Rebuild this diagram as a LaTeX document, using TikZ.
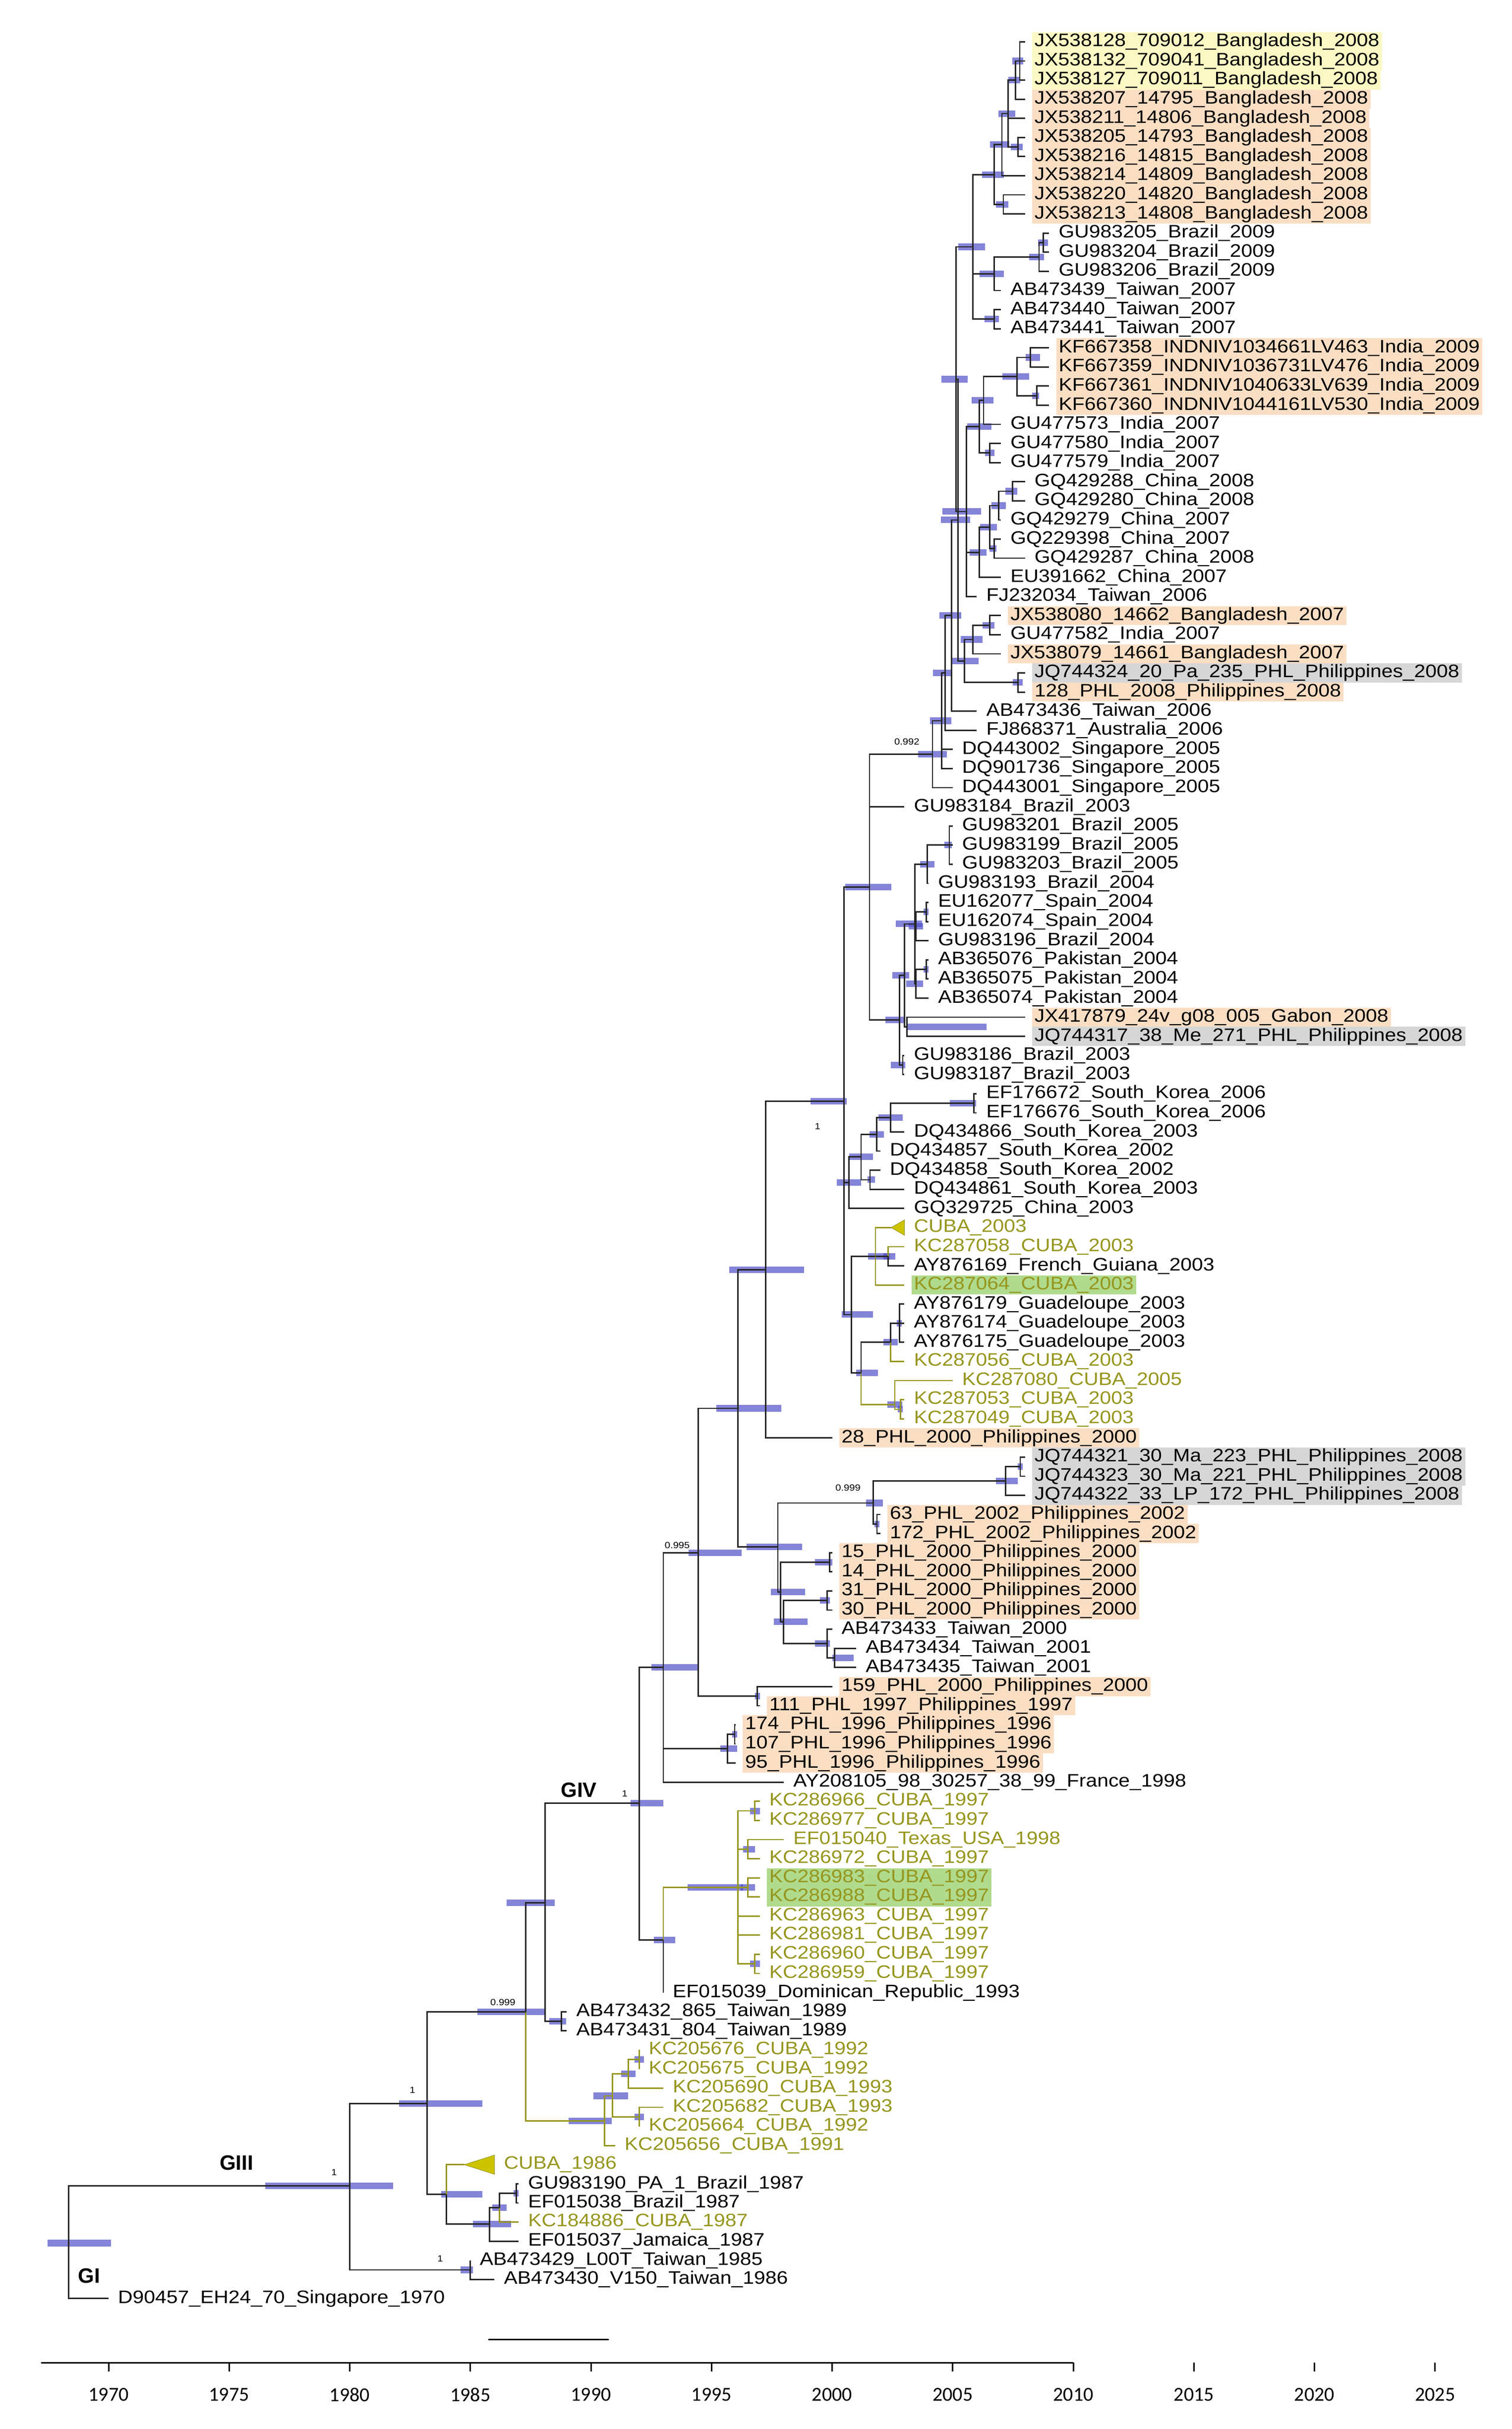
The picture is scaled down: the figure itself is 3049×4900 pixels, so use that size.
\documentclass[tikz,border=0pt]{standalone}
\usepackage{fontspec}
\setmainfont{Liberation Sans}[FakeStretch=1.12]
\newfontfamily\axf{Carlito}
\newfontfamily\grpf{Liberation Sans}
\definecolor{olv}{RGB}{150,150,30}
\definecolor{hor}{RGB}{250,222,196}
\definecolor{hye}{RGB}{252,248,196}
\definecolor{hgy}{RGB}{214,214,214}
\definecolor{hgn}{RGB}{176,218,140}
\definecolor{hpdc}{RGB}{80,80,200}
\definecolor{tric}{RGB}{205,195,0}
\tikzset{
  br/.style={draw=black!85,line width=2.8pt},
  ob/.style={draw=olv,line width=2.8pt},
  hpd/.style={fill=hpdc,fill opacity=0.7},
  lab/.style={anchor=west,xshift=14pt,inner xsep=5pt,inner ysep=0pt,minimum height=38.6pt,font=\fontsize{36.5}{38}\selectfont},
  ol/.style={text=olv}, ho/.style={fill=hor}, hy/.style={fill=hye}, hg/.style={fill=hgy}, hn/.style={fill=hgn},
  sup/.style={font=\fontsize{18}{20}\selectfont,inner sep=0pt},
  grp/.style={font=\grpf\bfseries\fontsize{42}{44}\selectfont,inner sep=0pt},
  tri/.style={fill=tric,draw=olv,line width=1pt}
}
\newcommand\tnode[5]{\coordinate (#1) at (#2,#3);\fill[hpd] (#2-#4,#3-0.17) rectangle (#2+#5,#3+0.17);}
\newcommand\tleaf[5]{\coordinate (#1) at (#2,#3);\node[lab,#4] (#1t) at (#1) {#5};}
\newcommand\tedge[3][br]{\draw[#1] (#2) |- (#3);}
\begin{document}
\begin{tikzpicture}[x=1pt,y=1pt]
\useasboundingbox (0,0) rectangle (3049,-4900);
\fill[white] (0,0) rectangle (3049,-4900);
\begin{scope}[shift={(219pt,-84.4pt)},x=48.65pt,y=-38.58pt]
% leaves
\tleaf{L1}{38}{0}{hy}{JX538128\_709012\_Bangladesh\_2008}
\tleaf{L2}{38}{1}{hy}{JX538132\_709041\_Bangladesh\_2008}
\tleaf{L3}{38}{2}{hy}{JX538127\_709011\_Bangladesh\_2008}
\tleaf{L4}{38}{3}{ho}{JX538207\_14795\_Bangladesh\_2008}
\tleaf{L5}{38}{4}{ho}{JX538211\_14806\_Bangladesh\_2008}
\tleaf{L6}{38}{5}{ho}{JX538205\_14793\_Bangladesh\_2008}
\tleaf{L7}{38}{6}{ho}{JX538216\_14815\_Bangladesh\_2008}
\tleaf{L8}{38}{7}{ho}{JX538214\_14809\_Bangladesh\_2008}
\tleaf{L9}{38}{8}{ho}{JX538220\_14820\_Bangladesh\_2008}
\tleaf{L10}{38}{9}{ho}{JX538213\_14808\_Bangladesh\_2008}
\tleaf{L11}{39}{10}{}{GU983205\_Brazil\_2009}
\tleaf{L12}{39}{11}{}{GU983204\_Brazil\_2009}
\tleaf{L13}{39}{12}{}{GU983206\_Brazil\_2009}
\tleaf{L14}{37}{13}{}{AB473439\_Taiwan\_2007}
\tleaf{L15}{37}{14}{}{AB473440\_Taiwan\_2007}
\tleaf{L16}{37}{15}{}{AB473441\_Taiwan\_2007}
\tleaf{L17}{39}{16}{ho}{KF667358\_INDNIV1034661LV463\_India\_2009}
\tleaf{L18}{39}{17}{ho}{KF667359\_INDNIV1036731LV476\_India\_2009}
\tleaf{L19}{39}{18}{ho}{KF667361\_INDNIV1040633LV639\_India\_2009}
\tleaf{L20}{39}{19}{ho}{KF667360\_INDNIV1044161LV530\_India\_2009}
\tleaf{L21}{37}{20}{}{GU477573\_India\_2007}
\tleaf{L22}{37}{21}{}{GU477580\_India\_2007}
\tleaf{L23}{37}{22}{}{GU477579\_India\_2007}
\tleaf{L24}{38}{23}{}{GQ429288\_China\_2008}
\tleaf{L25}{38}{24}{}{GQ429280\_China\_2008}
\tleaf{L26}{37}{25}{}{GQ429279\_China\_2007}
\tleaf{L27}{37}{26}{}{GQ229398\_China\_2007}
\tleaf{L28}{38}{27}{}{GQ429287\_China\_2008}
\tleaf{L29}{37}{28}{}{EU391662\_China\_2007}
\tleaf{L30}{36}{29}{}{FJ232034\_Taiwan\_2006}
\tleaf{L31}{37}{30}{ho}{JX538080\_14662\_Bangladesh\_2007}
\tleaf{L32}{37}{31}{}{GU477582\_India\_2007}
\tleaf{L33}{37}{32}{ho}{JX538079\_14661\_Bangladesh\_2007}
\tleaf{L34}{38}{33}{hg}{JQ744324\_20\_Pa\_235\_PHL\_Philippines\_2008}
\tleaf{L35}{38}{34}{ho}{128\_PHL\_2008\_Philippines\_2008}
\tleaf{L36}{36}{35}{}{AB473436\_Taiwan\_2006}
\tleaf{L37}{36}{36}{}{FJ868371\_Australia\_2006}
\tleaf{L38}{35}{37}{}{DQ443002\_Singapore\_2005}
\tleaf{L39}{35}{38}{}{DQ901736\_Singapore\_2005}
\tleaf{L40}{35}{39}{}{DQ443001\_Singapore\_2005}
\tleaf{L41}{33}{40}{}{GU983184\_Brazil\_2003}
\tleaf{L42}{35}{41}{}{GU983201\_Brazil\_2005}
\tleaf{L43}{35}{42}{}{GU983199\_Brazil\_2005}
\tleaf{L44}{35}{43}{}{GU983203\_Brazil\_2005}
\tleaf{L45}{34}{44}{}{GU983193\_Brazil\_2004}
\tleaf{L46}{34}{45}{}{EU162077\_Spain\_2004}
\tleaf{L47}{34}{46}{}{EU162074\_Spain\_2004}
\tleaf{L48}{34}{47}{}{GU983196\_Brazil\_2004}
\tleaf{L49}{34}{48}{}{AB365076\_Pakistan\_2004}
\tleaf{L50}{34}{49}{}{AB365075\_Pakistan\_2004}
\tleaf{L51}{34}{50}{}{AB365074\_Pakistan\_2004}
\tleaf{L52}{38}{51}{ho}{JX417879\_24v\_g08\_005\_Gabon\_2008}
\tleaf{L53}{38}{52}{hg}{JQ744317\_38\_Me\_271\_PHL\_Philippines\_2008}
\tleaf{L54}{33}{53}{}{GU983186\_Brazil\_2003}
\tleaf{L55}{33}{54}{}{GU983187\_Brazil\_2003}
\tleaf{L56}{36}{55}{}{EF176672\_South\_Korea\_2006}
\tleaf{L57}{36}{56}{}{EF176676\_South\_Korea\_2006}
\tleaf{L58}{33}{57}{}{DQ434866\_South\_Korea\_2003}
\tleaf{L59}{32}{58}{}{DQ434857\_South\_Korea\_2002}
\tleaf{L60}{32}{59}{}{DQ434858\_South\_Korea\_2002}
\tleaf{L61}{33}{60}{}{DQ434861\_South\_Korea\_2003}
\tleaf{L62}{33}{61}{}{GQ329725\_China\_2003}
\tleaf{L63}{33}{62}{ol}{CUBA\_2003}
\tleaf{L64}{33}{63}{ol}{KC287058\_CUBA\_2003}
\tleaf{L65}{33}{64}{}{AY876169\_French\_Guiana\_2003}
\tleaf{L66}{33}{65}{ol,hn}{KC287064\_CUBA\_2003}
\tleaf{L67}{33}{66}{}{AY876179\_Guadeloupe\_2003}
\tleaf{L68}{33}{67}{}{AY876174\_Guadeloupe\_2003}
\tleaf{L69}{33}{68}{}{AY876175\_Guadeloupe\_2003}
\tleaf{L70}{33}{69}{ol}{KC287056\_CUBA\_2003}
\tleaf{L71}{35}{70}{ol}{KC287080\_CUBA\_2005}
\tleaf{L72}{33}{71}{ol}{KC287053\_CUBA\_2003}
\tleaf{L73}{33}{72}{ol}{KC287049\_CUBA\_2003}
\tleaf{L74}{30}{73}{ho}{28\_PHL\_2000\_Philippines\_2000}
\tleaf{L75}{38}{74}{hg}{JQ744321\_30\_Ma\_223\_PHL\_Philippines\_2008}
\tleaf{L76}{38}{75}{hg}{JQ744323\_30\_Ma\_221\_PHL\_Philippines\_2008}
\tleaf{L77}{38}{76}{hg}{JQ744322\_33\_LP\_172\_PHL\_Philippines\_2008}
\tleaf{L78}{32}{77}{ho}{63\_PHL\_2002\_Philippines\_2002}
\tleaf{L79}{32}{78}{ho}{172\_PHL\_2002\_Philippines\_2002}
\tleaf{L80}{30}{79}{ho}{15\_PHL\_2000\_Philippines\_2000}
\tleaf{L81}{30}{80}{ho}{14\_PHL\_2000\_Philippines\_2000}
\tleaf{L82}{30}{81}{ho}{31\_PHL\_2000\_Philippines\_2000}
\tleaf{L83}{30}{82}{ho}{30\_PHL\_2000\_Philippines\_2000}
\tleaf{L84}{30}{83}{}{AB473433\_Taiwan\_2000}
\tleaf{L85}{31}{84}{}{AB473434\_Taiwan\_2001}
\tleaf{L86}{31}{85}{}{AB473435\_Taiwan\_2001}
\tleaf{L87}{30}{86}{ho}{159\_PHL\_2000\_Philippines\_2000}
\tleaf{L88}{27}{87}{ho}{111\_PHL\_1997\_Philippines\_1997}
\tleaf{L89}{26}{88}{ho}{174\_PHL\_1996\_Philippines\_1996}
\tleaf{L90}{26}{89}{ho}{107\_PHL\_1996\_Philippines\_1996}
\tleaf{L91}{26}{90}{ho}{95\_PHL\_1996\_Philippines\_1996}
\tleaf{L92}{28}{91}{}{AY208105\_98\_30257\_38\_99\_France\_1998}
\tleaf{L93}{27}{92}{ol}{KC286966\_CUBA\_1997}
\tleaf{L94}{27}{93}{ol}{KC286977\_CUBA\_1997}
\tleaf{L95}{28}{94}{ol}{EF015040\_Texas\_USA\_1998}
\tleaf{L96}{27}{95}{ol}{KC286972\_CUBA\_1997}
\tleaf{L97}{27}{96}{ol,hn}{KC286983\_CUBA\_1997}
\tleaf{L98}{27}{97}{ol,hn}{KC286988\_CUBA\_1997}
\tleaf{L99}{27}{98}{ol}{KC286963\_CUBA\_1997}
\tleaf{L100}{27}{99}{ol}{KC286981\_CUBA\_1997}
\tleaf{L101}{27}{100}{ol}{KC286960\_CUBA\_1997}
\tleaf{L102}{27}{101}{ol}{KC286959\_CUBA\_1997}
\tleaf{L103}{23}{102}{}{EF015039\_Dominican\_Republic\_1993}
\tleaf{L104}{19}{103}{}{AB473432\_865\_Taiwan\_1989}
\tleaf{L105}{19}{104}{}{AB473431\_804\_Taiwan\_1989}
\tleaf{L106}{22}{105}{ol}{KC205676\_CUBA\_1992}
\tleaf{L107}{22}{106}{ol}{KC205675\_CUBA\_1992}
\tleaf{L108}{23}{107}{ol}{KC205690\_CUBA\_1993}
\tleaf{L109}{23}{108}{ol}{KC205682\_CUBA\_1993}
\tleaf{L110}{22}{109}{ol}{KC205664\_CUBA\_1992}
\tleaf{L111}{21}{110}{ol}{KC205656\_CUBA\_1991}
\tleaf{L112}{16}{111}{ol}{CUBA\_1986}
\tleaf{L113}{17}{112}{}{GU983190\_PA\_1\_Brazil\_1987}
\tleaf{L114}{17}{113}{}{EF015038\_Brazil\_1987}
\tleaf{L115}{17}{114}{ol}{KC184886\_CUBA\_1987}
\tleaf{L116}{17}{115}{}{EF015037\_Jamaica\_1987}
\tleaf{L117}{15}{116}{}{AB473429\_L00T\_Taiwan\_1985}
\tleaf{L118}{16}{117}{}{AB473430\_V150\_Taiwan\_1986}
\tleaf{L119}{0}{118}{}{D90457\_EH24\_70\_Singapore\_1970}
% collapsed clades
\coordinate (T63) at (32.45,62);
\coordinate (T112) at (14.75,111);
\filldraw[tri] (T63) -- (33,61.6) -- (33,62.4) -- cycle;
\filldraw[tri] (T112) -- (16,110.5) -- (16,111.5) -- cycle;
% internal nodes
\tnode{a}{37.78}{1}{.3}{.15}
\tnode{b}{37.6}{2}{.3}{.2}
\tnode{d}{37.7}{5.5}{.3}{.2}
\tnode{c}{37.3}{3.75}{.4}{.3}
\tnode{e}{37.04}{5.375}{.5}{.3}
\tnode{f}{37.1}{8.5}{.3}{.2}
\tnode{g}{36.72}{6.94}{.5}{.4}
\tnode{br1}{38.75}{10.5}{.2}{.2}
\tnode{br2}{38.58}{11.25}{.4}{.2}
\tnode{h}{36.72}{12.125}{.6}{.4}
\tnode{t}{36.72}{14.5}{.4}{.2}
\tnode{i}{35.84}{10.72}{.6}{.5}
\tnode{in1}{38.22}{16.5}{.2}{.4}
\tnode{in2}{38.49}{18.5}{.2}{.1}
\tnode{in3}{37.66}{17.5}{.6}{.5}
\tnode{in4}{36.28}{18.75}{.5}{.4}
\tnode{in5}{36.54}{21.5}{.2}{.2}
\tnode{ind}{36.1}{20.125}{.5}{.5}
\tnode{ch1}{37.48}{23.5}{.3}{.2}
\tnode{ch2}{36.9}{24.25}{.3}{.3}
\tnode{ch3}{36.72}{26.5}{.2}{.1}
\tnode{ch4}{36.54}{25.375}{.4}{.3}
\tnode{chi}{36.1}{26.69}{.4}{.3}
\tnode{ic}{35.57}{24.56}{1.0}{.6}
\tnode{top}{35.13}{17.64}{.6}{.5}
\tnode{bd1}{36.54}{30.5}{.3}{.2}
\tnode{bd2}{35.84}{31.25}{.5}{.4}
\tnode{ph1}{37.7}{33.5}{.2}{.2}
\tnode{bp}{35.48}{32.375}{.5}{.6}
\tnode{y1}{35.22}{25.0}{.7}{.5}
\tnode{y2}{34.95}{30.0}{.5}{.4}
\tnode{y3}{34.69}{33.0}{.5}{.3}
\tnode{y4}{34.55}{35.5}{.5}{.4}
\tnode{y5}{34.16}{37.25}{.6}{.6}
\tnode{b1}{34.86}{42}{.2}{.1}
\tnode{b2}{33.95}{43}{.3}{.3}
\tnode{s1}{33.9}{45.5}{.1}{.1}
\tnode{s2}{33.48}{46.25}{.3}{.3}
\tnode{p1}{33.9}{48.5}{.1}{.1}
\tnode{p2}{33.48}{49.25}{.4}{.3}
\tnode{bsp}{33.44}{46.125}{.8}{.3}
\tnode{gp}{33.1}{51.5}{0}{3.3}
\tnode{w}{33.0}{48.8}{.5}{.2}
\tnode{bb}{32.93}{53.5}{.5}{.1}
\tnode{w2}{32.8}{51.15}{.6}{.2}
\tnode{z}{31.55}{44.2}{1.0}{.9}
\tnode{k1}{35.88}{55.5}{1.0}{.1}
\tnode{k2}{32.42}{56.25}{.5}{.5}
\tnode{k3}{31.85}{57.125}{.3}{.3}
\tnode{k4}{31.57}{59.5}{.1}{.2}
\tnode{k5}{31.2}{58.3}{.5}{.5}
\tnode{kor}{30.7}{59.65}{.5}{.5}
\tnode{c2}{32.32}{63.5}{.2}{.3}
\tnode{c1}{31.8}{63.5}{.3}{.6}
\tnode{g1}{32.79}{67}{.1}{.1}
\tnode{g2}{32.42}{68}{.3}{.3}
\tnode{c4a}{32.83}{71.5}{.1}{.1}
\tnode{c4}{32.6}{71.25}{.3}{.3}
\tnode{c5}{31.2}{69.6}{.2}{.7}
\tnode{c6}{30.8}{66.55}{.4}{.9}
\tnode{big}{30.5}{55.4}{1.4}{.1}
\tnode{G}{27.24}{64.2}{1.5}{1.6}
\tnode{p75}{37.8}{74.5}{.1}{.1}
\tnode{p77}{37.2}{75.25}{.4}{.5}
\tnode{p78}{31.86}{77.5}{.1}{.1}
\tnode{p2n}{31.7}{76.4}{.3}{.4}
\tnode{q1}{29.9}{79.5}{.6}{.1}
\tnode{q2}{29.8}{81.5}{.3}{.1}
\tnode{tw1}{30.1}{84.5}{.1}{.8}
\tnode{tw2}{29.8}{83.75}{.5}{.1}
\tnode{q5}{27.99}{82.6}{.4}{1.0}
\tnode{q4}{27.87}{81.05}{.4}{1.0}
\tnode{p3}{27.75}{78.7}{1.3}{1.0}
\tnode{N3}{26.1}{71.45}{.9}{1.8}
\tnode{pp}{26.9}{86.5}{.1}{.1}
\tnode{N2}{24.45}{79.0}{.4}{1.8}
\tnode{phl96a}{25.96}{88.5}{.1}{.1}
\tnode{phl96}{25.66}{89.25}{.3}{.4}
\tnode{N1}{23.0}{85.0}{.5}{1.45}
\tnode{c9394}{26.8}{92.5}{.2}{.2}
\tnode{c9596}{26.5}{94.5}{.2}{.3}
\tnode{c9798}{26.5}{96.5}{.3}{.3}
\tnode{c101}{26.8}{100.5}{.2}{.2}
\tnode{c97}{26.1}{96.5}{2.1}{.2}
\tnode{n838}{23.0}{99.25}{.4}{.5}
\tnode{GIV}{22.0}{92.1}{.35}{1.0}
\tnode{tw89}{18.77}{103.5}{.5}{.2}
\tnode{A}{18.1}{97.3}{1.6}{.4}
\tnode{o3a}{22.0}{105.5}{.2}{.2}
\tnode{o3}{21.55}{106.25}{.3}{.3}
\tnode{o4}{22.0}{108.5}{.2}{.2}
\tnode{o2}{20.9}{107.4}{.8}{.65}
\tnode{o1}{20.57}{108.7}{1.5}{.3}
\tnode{B}{17.3}{103.0}{2.0}{.8}
\tnode{G2}{16.9}{112.5}{.1}{.1}
\tnode{F}{16.2}{113.25}{.3}{.3}
\tnode{E}{15.8}{114.1}{.7}{.9}
\tnode{D}{14.0}{112.55}{.2}{1.5}
\tnode{C}{13.2}{107.8}{1.15}{2.3}
\tnode{tw85}{15.0}{116.5}{.4}{.1}
\tnode{H}{10.0}{112.1}{3.5}{1.8}
\tnode{R}{-1.65}{115.1}{.88}{1.75}
% edges
\tedge{a}{L1}\tedge{a}{L2}\tedge{a}{L3}
\tedge{b}{a}\tedge{b}{L4}
\tedge{d}{L6}\tedge{d}{L7}
\tedge{c}{b}\tedge{c}{L5}\tedge{c}{d}
\tedge{e}{c}\tedge{e}{L8}
\tedge{f}{L9}\tedge{f}{L10}
\tedge{g}{e}\tedge{g}{f}
\tedge{br1}{L11}\tedge{br1}{L12}
\tedge{br2}{br1}\tedge{br2}{L13}
\tedge{h}{br2}\tedge{h}{L14}
\tedge{t}{L15}\tedge{t}{L16}
\tedge{i}{g}\tedge{i}{h}\tedge{i}{t}
\tedge{in1}{L17}\tedge{in1}{L18}
\tedge{in2}{L19}\tedge{in2}{L20}
\tedge{in3}{in1}\tedge{in3}{in2}
\tedge{in4}{in3}\tedge{in4}{L21}
\tedge{in5}{L22}\tedge{in5}{L23}
\tedge{ind}{in4}\tedge{ind}{in5}
\tedge{ch1}{L24}\tedge{ch1}{L25}
\tedge{ch2}{ch1}\tedge{ch2}{L26}
\tedge{ch3}{L27}\tedge{ch3}{L28}
\tedge{ch4}{ch2}\tedge{ch4}{ch3}
\tedge{chi}{ch4}\tedge{chi}{L29}
\tedge{ic}{ind}\tedge{ic}{chi}\tedge{ic}{L30}
\tedge{top}{i}\tedge{top}{ic}
\tedge{bd1}{L31}\tedge{bd1}{L32}
\tedge{bd2}{bd1}\tedge{bd2}{L33}
\tedge{ph1}{L34}\tedge{ph1}{L35}
\tedge{bp}{bd2}\tedge{bp}{ph1}
\tedge{y1}{top}\tedge{y1}{bp}
\tedge{y2}{y1}\tedge{y2}{L36}
\tedge{y3}{y2}\tedge{y3}{L37}
\tedge{y4}{y3}\tedge{y4}{L38}\tedge{y4}{L39}
\tedge{y5}{y4}\tedge{y5}{L40}
\tedge{b1}{L42}\tedge{b1}{L43}\tedge{b1}{L44}
\tedge{b2}{b1}\tedge{b2}{L45}
\tedge{s1}{L46}\tedge{s1}{L47}
\tedge{s2}{s1}\tedge{s2}{L48}
\tedge{p1}{L49}\tedge{p1}{L50}
\tedge{p2}{p1}\tedge{p2}{L51}
\tedge{bsp}{b2}\tedge{bsp}{s2}\tedge{bsp}{p2}
\tedge{gp}{L52}\tedge{gp}{L53}
\tedge{w}{bsp}\tedge{w}{gp}
\tedge{bb}{L54}\tedge{bb}{L55}
\tedge{w2}{w}\tedge{w2}{bb}
\tedge{z}{y5}\tedge{z}{L41}\tedge{z}{w2}
\tedge{k1}{L56}\tedge{k1}{L57}
\tedge{k2}{k1}\tedge{k2}{L58}
\tedge{k3}{k2}\tedge{k3}{L59}
\tedge{k4}{L60}\tedge{k4}{L61}
\tedge{k5}{k3}\tedge{k5}{k4}
\tedge{kor}{k5}\tedge{kor}{L62}
\tedge[ob]{c2}{L64}\tedge{c2}{L65}
\tedge[ob]{c1}{T63}\tedge{c1}{c2}\tedge[ob]{c1}{L66}
\tedge{g1}{L67}\tedge{g1}{L68}\tedge{g1}{L69}
\tedge{g2}{g1}\tedge[ob]{g2}{L70}
\tedge[ob]{c4a}{L72}\tedge[ob]{c4a}{L73}
\tedge[ob]{c4}{L71}\tedge[ob]{c4}{c4a}
\tedge{c5}{g2}\tedge[ob]{c5}{c4}
\tedge{c6}{c1}\tedge{c6}{c5}
\tedge{big}{z}\tedge{big}{kor}\tedge{big}{c6}
\tedge{G}{big}\tedge{G}{L74}
\tedge{p75}{L75}\tedge{p75}{L76}
\tedge{p77}{p75}\tedge{p77}{L77}
\tedge{p78}{L78}\tedge{p78}{L79}
\tedge{p2n}{p77}\tedge{p2n}{p78}
\tedge{q1}{L80}\tedge{q1}{L81}
\tedge{q2}{L82}\tedge{q2}{L83}
\tedge{tw1}{L85}\tedge{tw1}{L86}
\tedge{tw2}{L84}\tedge{tw2}{tw1}
\tedge{q5}{q2}\tedge{q5}{tw2}
\tedge{q4}{q1}\tedge{q4}{q5}
\tedge{p3}{p2n}\tedge{p3}{q4}
\tedge{N3}{G}\tedge{N3}{p3}
\tedge{pp}{L87}\tedge{pp}{L88}
\tedge{N2}{N3}\tedge{N2}{pp}
\tedge{phl96a}{L89}\tedge{phl96a}{L90}
\tedge{phl96}{phl96a}\tedge{phl96}{L91}
\tedge{N1}{N2}\tedge{N1}{phl96}\tedge{N1}{L92}
\tedge[ob]{c9394}{L93}\tedge[ob]{c9394}{L94}
\tedge[ob]{c9596}{L95}\tedge[ob]{c9596}{L96}
\tedge[ob]{c9798}{L97}\tedge[ob]{c9798}{L98}
\tedge[ob]{c101}{L101}\tedge[ob]{c101}{L102}
\tedge[ob]{c97}{c9394}\tedge[ob]{c97}{c9596}\tedge[ob]{c97}{c9798}
\tedge[ob]{c97}{L99}\tedge[ob]{c97}{L100}\tedge[ob]{c97}{c101}
\tedge[ob]{n838}{c97}\tedge{n838}{L103}
\tedge{GIV}{N1}\tedge{GIV}{n838}
\tedge{tw89}{L104}\tedge{tw89}{L105}
\tedge{A}{GIV}\tedge{A}{tw89}
\tedge[ob]{o3a}{L106}\tedge[ob]{o3a}{L107}
\tedge[ob]{o3}{o3a}\tedge[ob]{o3}{L108}
\tedge[ob]{o4}{L109}\tedge[ob]{o4}{L110}
\tedge[ob]{o2}{o3}\tedge[ob]{o2}{o4}
\tedge[ob]{o1}{o2}\tedge[ob]{o1}{L111}
\tedge{B}{A}\tedge[ob]{B}{o1}
\tedge{G2}{L113}\tedge{G2}{L114}
\tedge{F}{G2}\tedge[ob]{F}{L115}
\tedge{E}{F}\tedge{E}{L116}
\tedge[ob]{D}{T112}\tedge{D}{E}
\tedge{C}{B}\tedge{C}{D}
\tedge{tw85}{L117}\tedge{tw85}{L118}
\tedge{H}{C}\tedge{H}{tw85}
\tedge{R}{H}\tedge{R}{L119}
% support values and group names
\node[sup] (s0992) at (33.1,36.6) {0.992};
\node[sup] (s1a) at (29.4,56.7) {1};
\node[sup] (s0999a) at (30.66,75.6) {0.999};
\node[sup] (s0995) at (23.58,78.6) {0.995};
\node[sup] (s1b) at (21.4,91.6) {1};
\node[sup] (s0999b) at (16.35,102.5) {0.999};
\node[sup] (s1c) at (12.6,107.1) {1};
\node[sup] (s1d) at (9.35,111.4) {1};
\node[sup] (s1e) at (13.75,115.9) {1};
\node[grp] (gGIV) at (19.5,91.4) {GIV};
\node[grp] (gGIII) at (5.3,110.9) {GIII};
\node[grp] (gGI) at (-0.8,116.8) {GI};
% scale bar
\coordinate (sb1) at (15.74,120.15);
\coordinate (sb2) at (20.74,120.15);
\draw[line width=3pt] (sb1) -- (sb2);
% axis
\coordinate (ax1) at (-2.8,121.35);
\coordinate (ax2) at (40,121.35);
\draw[line width=3pt] (ax1) -- (ax2);
\foreach \t [evaluate=\t as \yr using int(1970+\t)] in {0,5,...,55}{
  \draw[line width=3pt] (\t,121.35) -- (\t,121.8);
  \node[font=\axf\fontsize{40}{42}\selectfont] (yr\t) at (\t,123.03) {\yr};
}
\end{scope}
\end{tikzpicture}
\end{document}
